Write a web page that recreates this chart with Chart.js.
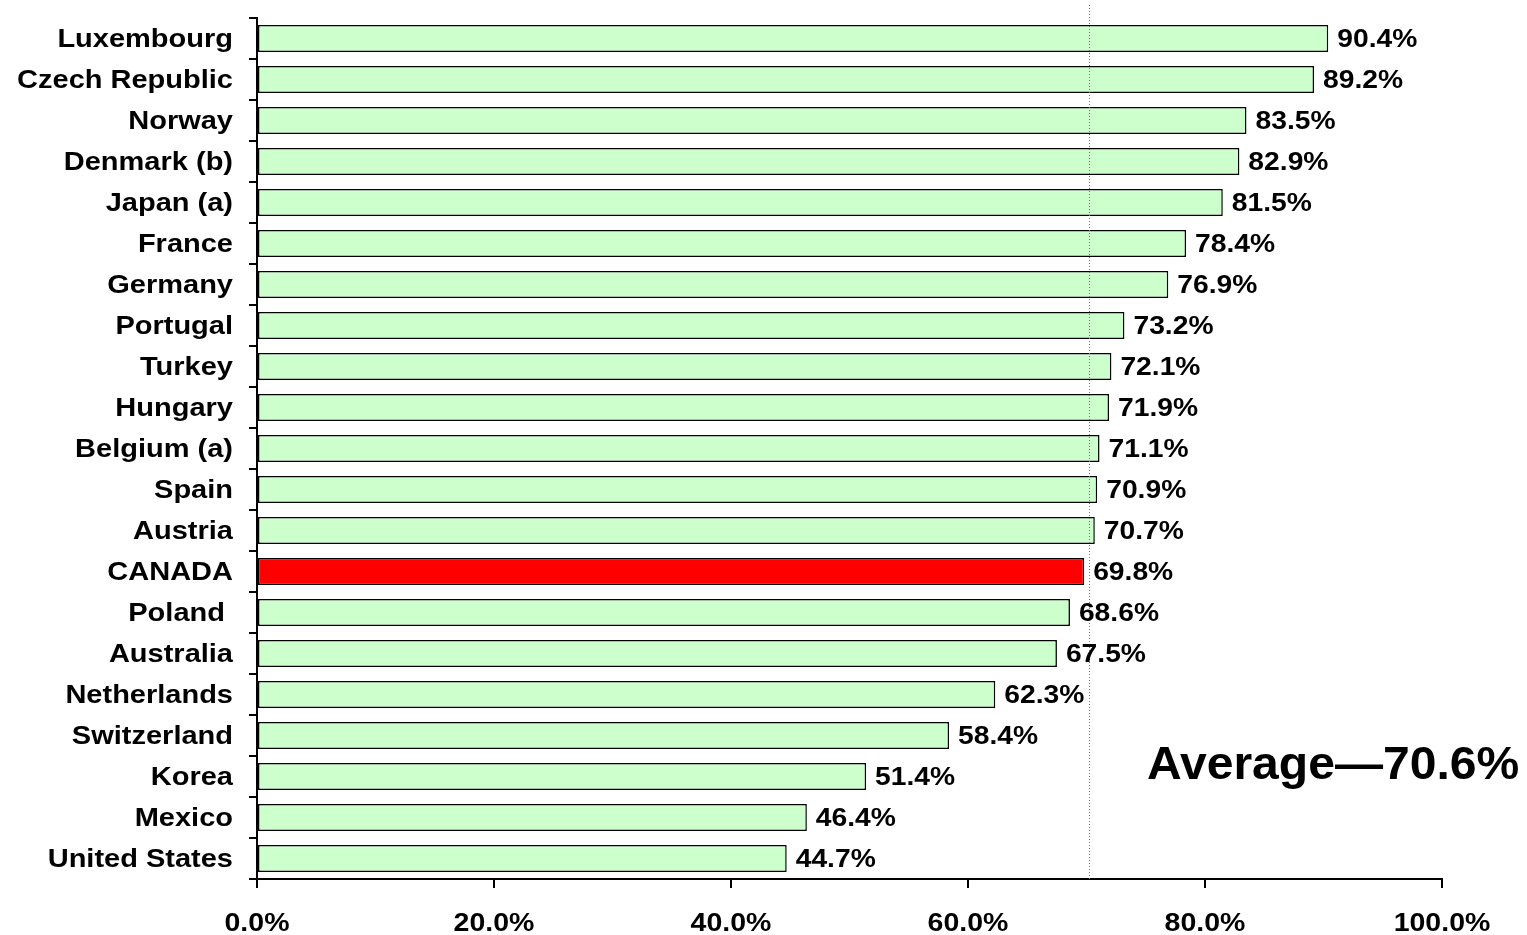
<!DOCTYPE html>
<html>
<head>
<meta charset="utf-8">
<script src="https://cdn.jsdelivr.net/npm/chart.js@4"></script>
<style>
    html, body { margin: 0; padding: 0; background: #fff; }
    #wrap { width: 1527px; height: 935px; }
</style>
</head>
<body>
<div id="wrap"><canvas id="shareChart" width="1527" height="935"></canvas></div>
<script>
const countries = [
    'Luxembourg', 'Czech Republic', 'Norway', 'Denmark (b)', 'Japan (a)', 'France',
    'Germany', 'Portugal', 'Turkey', 'Hungary', 'Belgium (a)', 'Spain', 'Austria',
    'CANADA', 'Poland ', 'Australia', 'Netherlands', 'Switzerland', 'Korea',
    'Mexico', 'United States'
];
const shares = [
    90.4, 89.2, 83.5, 82.9, 81.5, 78.4, 76.9, 73.2, 72.1, 71.9, 71.1, 70.9, 70.7,
    69.8, 68.6, 67.5, 62.3, 58.4, 51.4, 46.4, 44.7
];
const xTicks = [0, 20, 40, 60, 80, 100];
const averageLabel = 'Average\u201470.6%';
const averageLinePos = 70.2;
const highlight = 'CANADA';

const FONT = '"Liberation Sans", Arial, sans-serif';

// the original's labels are a bit wider than plain Arial bold
function stretchedText(ctx, text, x, y, align, size, sx) {
    ctx.save();
    ctx.translate(x, y);
    ctx.scale(sx, 1);
    ctx.font = 'bold ' + size + 'px ' + FONT;
    ctx.fillStyle = '#000';
    ctx.textAlign = align;
    ctx.textBaseline = 'middle';
    ctx.fillText(text, 0, 0);
    ctx.restore();
}

const textPlugin = {
    id: 'textPlugin',
    afterDatasetsDraw(chart) {
        const ctx = chart.ctx;
        const xs = chart.scales.x;
        const ys = chart.scales.y;
        const area = chart.chartArea;

        // average marker line
        const ax = Math.round(xs.getPixelForValue(averageLinePos)) + 0.5;
        ctx.save();
        ctx.strokeStyle = '#777';
        ctx.lineWidth = 1;
        ctx.setLineDash([1, 2]);
        ctx.beginPath();
        ctx.moveTo(ax, 5);
        ctx.lineTo(ax, area.bottom);
        ctx.stroke();
        ctx.restore();

        countries.forEach((name, i) => {
            const y = ys.getPixelForValue(i) + 2;
            stretchedText(ctx, name, area.left - 24, y, 'right', 25, 1.16);
            const bx = xs.getPixelForValue(shares[i]);
            stretchedText(ctx, shares[i].toFixed(1) + '%', bx + 9, y, 'left', 25, 1.13);
        });

        xTicks.forEach(t => {
            stretchedText(ctx, t.toFixed(1) + '%', xs.getPixelForValue(t), 924, 'center', 25, 1.14);
        });

        stretchedText(ctx, averageLabel, 1147, 766, 'left', 46, 1.045);
    }
};

new Chart(document.getElementById('shareChart'), {
    type: 'bar',
    data: {
        labels: countries,
        datasets: [{
            data: shares,
            backgroundColor: countries.map(c => c === highlight ? '#ff0000' : '#ccffcc'),
            borderColor: '#000',
            borderWidth: 1.5,
            borderSkipped: false,
            barPercentage: 0.66,
            categoryPercentage: 1.0
        }]
    },
    options: {
        indexAxis: 'y',
        responsive: false,
        animation: false,
        devicePixelRatio: 1,
        layout: { padding: { top: 18, right: 85, left: 0, bottom: 0 } },
        plugins: {
            legend: { display: false },
            tooltip: { enabled: false }
        },
        scales: {
            x: {
                min: 0,
                max: 100,
                afterFit(s) { s.height = 56; },
                afterBuildTicks(s) { s.ticks = xTicks.map(v => ({ value: v })); },
                ticks: { display: false },
                grid: { drawOnChartArea: false, color: '#000', tickLength: 9, lineWidth: 2 },
                border: { display: true, color: '#000', width: 2 }
            },
            y: {
                afterFit(s) { s.width = 257; },
                ticks: { display: false },
                grid: { drawOnChartArea: false, color: '#000', tickLength: 8, lineWidth: 2, offset: true },
                border: { display: true, color: '#000', width: 2 }
            }
        }
    },
    plugins: [textPlugin]
});
</script>
</body>
</html>
